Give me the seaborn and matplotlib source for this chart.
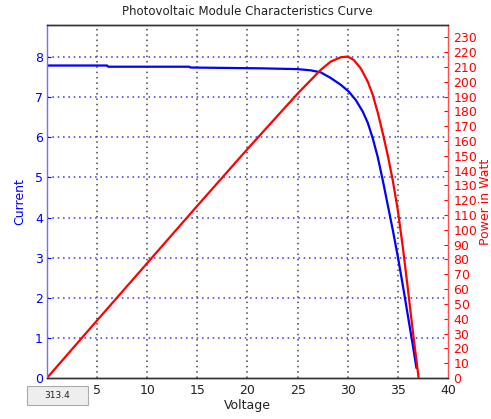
import numpy as np
import pandas as pd
import matplotlib
matplotlib.use("Agg")
import matplotlib.pyplot as plt
import seaborn as sns

# Data
voltage_i = [0, 6.0, 6.1, 14.2, 14.3, 21.3, 25.0, 26.3, 27.3, 28.3, 29.3, 30.1,
             30.8, 31.5, 32.0, 32.5, 33.0, 33.5, 34.0, 34.5, 35.0, 35.5, 36.0,
             36.5, 36.85]
current = [7.79, 7.79, 7.76, 7.76, 7.74, 7.72, 7.70, 7.67, 7.62, 7.48, 7.31, 7.14,
           6.93, 6.64, 6.36, 5.97, 5.50, 4.92, 4.30, 3.68, 3.02, 2.30, 1.55,
           0.80, 0.25]

voltage_p = [0, 5, 10, 15, 20, 22.5, 25.0, 27.3, 28.3, 29.3, 30.0, 30.6, 31.3,
             32.0, 32.5, 33.0, 33.5, 34.0, 34.5, 35.0, 35.5, 36.0, 36.5, 37.07]
power = [0, 38.9, 77.6, 116.3, 154.6, 173.3, 192, 208, 213.6, 216.5, 217, 214.7,
         209, 200, 191, 179, 165, 150, 133, 113, 88, 60, 31, 0]

x_ticks = [5, 10, 15, 20, 25, 30, 35, 40]
left_ticks = [0, 1, 2, 3, 4, 5, 6, 7, 8]
right_ticks = list(range(0, 240, 10))

title = "Photovoltaic Module Characteristics Curve"
box_text = "313.4"

sns.set_style("white")
plt.rcParams['font.family'] = ['DejaVu Sans']

df_i = pd.DataFrame({"Voltage": voltage_i, "Current": current})
df_p = pd.DataFrame({"Voltage": voltage_p, "Power": power})

fig = plt.figure(figsize=(4.91, 4.19), dpi=100)
ax = fig.add_axes([47 / 491, 41 / 419, 401 / 491, 353 / 419])
ax2 = ax.twinx()

sns.lineplot(data=df_i, x="Voltage", y="Current", ax=ax, color="blue", lw=1.6,
             sort=False, estimator=None, solid_joinstyle='round')
sns.lineplot(data=df_p, x="Voltage", y="Power", ax=ax2, color="red", lw=1.6,
             sort=False, estimator=None, solid_joinstyle='round')

ax.set_xlim(0, 40)
ax.set_ylim(0, 8.8)
ax2.set_ylim(0, 238.3)

ax.set_xticks(x_ticks)
ax.set_yticks(left_ticks)
ax2.set_yticks(right_ticks)

fs = 9
ax.tick_params(axis='x', direction='in', length=3, labelsize=fs, colors='#222222', pad=4)
ax.tick_params(axis='y', direction='in', length=3, labelsize=fs, colors='blue', pad=3)
ax2.tick_params(axis='y', direction='in', length=3, labelsize=fs, colors='red', pad=4)

# grid
for v in x_ticks[:-1]:
    ax.axvline(v, color='#444444', ls=(0, (1, 2.5)), lw=1.1, zorder=0)
for c in left_ticks[1:]:
    ax.axhline(c, color='#3333ff', ls=(0, (1, 2.5)), lw=1.1, zorder=0)

for a in (ax, ax2):
    for s in a.spines.values():
        s.set_linewidth(1.0)
ax2.spines['left'].set_color('#7070ff')
ax2.spines['right'].set_color('#ff5050')
ax2.spines['top'].set_color('#333333')
ax2.spines['bottom'].set_color('#333333')
ax.spines['left'].set_visible(False)
ax.spines['right'].set_visible(False)

ax.set_xlabel("Voltage", fontsize=fs, color='#222222', labelpad=2)
ax.set_ylabel("Current", fontsize=fs, color='blue', labelpad=6)
ax2.set_ylabel("Power in Watt", fontsize=fs, color='red', labelpad=1)
ax.set_title(title, fontsize=8.5, color='#222222', pad=7)

fig.patches.append(plt.Rectangle((27 / 491, 1 - 405 / 419), 61 / 491, 19 / 419,
                                 transform=fig.transFigure, fc='#eeeeee', ec='#aaaaaa',
                                 lw=0.8, zorder=5))
fig.text(57 / 491, 1 - 395 / 419, box_text, fontsize=6.5, color='#222222',
         ha='center', va='center', zorder=6)

fig.savefig("out.png", dpi=100)
